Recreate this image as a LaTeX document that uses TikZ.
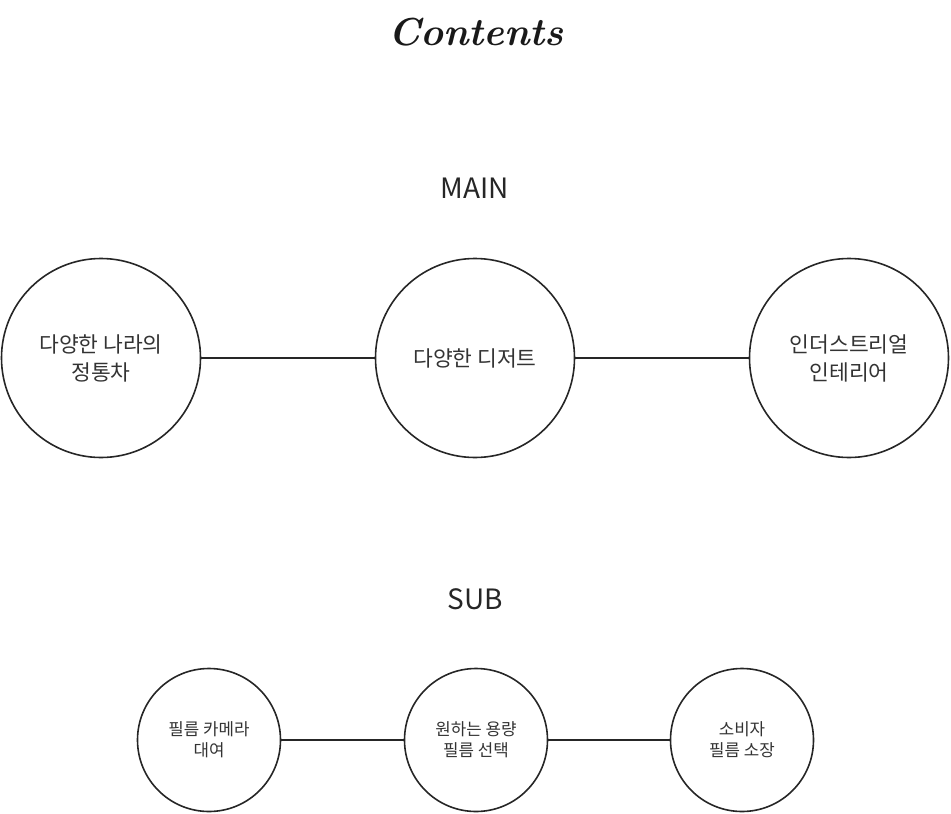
\documentclass[tikz,border=0pt]{standalone}
\usepackage{fontspec}
\usepackage{tikz}
\newfontfamily\kr{Noto Sans CJK KR}

\begin{document}
\begin{tikzpicture}[x=1pt,y=-1pt,
    bigdot/.style={draw=black!85,line width=1.6pt,circle,minimum size=199pt,inner sep=0pt,align=center,
      text=black!80,font=\kr\fontsize{21.5}{28}\selectfont},
    smalldot/.style={bigdot,minimum size=143pt,font=\kr\fontsize{16.8}{21}\selectfont},
    heading/.style={text=black!85,font=\kr\fontsize{28}{32}\selectfont}]
        \useasboundingbox (0,0) rectangle (951,814);
        \def\lw{1.6pt}

        \node[text=black!90,font=\bfseries\itshape\fontsize{39}{43}\selectfont] (title) at (476,32) {Contents};

        \node[heading] (main) at (475,188) {MAIN};
        \node[bigdot] (m1) at (101,358) {다양한 나라의\\정통차};
        \node[bigdot] (m2) at (475,358) {다양한 디저트};
        \node[bigdot] (m3) at (849,358) {인더스트리얼\\인테리어};
        \draw[line width=\lw,black!85] (m1)--(m2);
        \draw[line width=\lw,black!85] (m2)--(m3);

        \node[heading] (sub) at (475,599) {SUB};
        \node[smalldot] (s1) at (209,740) {필름 카메라\\대여};
        \node[smalldot] (s2) at (476,740) {원하는 용량\\필름 선택};
        \node[smalldot] (s3) at (742,740) {소비자\\필름 소장};
        \draw[line width=\lw,black!85] (s1)--(s2);
        \draw[line width=\lw,black!85] (s2)--(s3);
      \end{tikzpicture}
\end{document}
